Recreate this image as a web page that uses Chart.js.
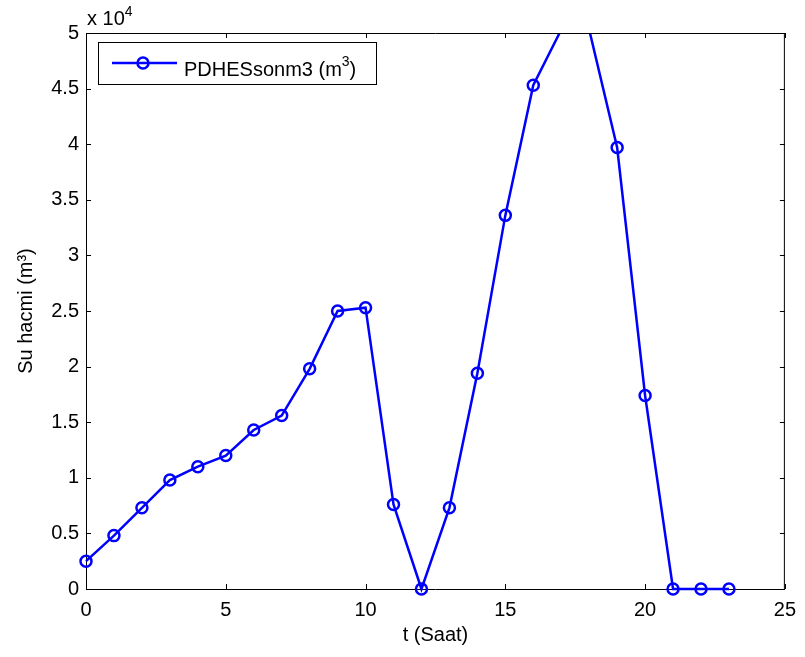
<!DOCTYPE html>
<html>
<head>
<meta charset="utf-8">
<script src="https://cdn.jsdelivr.net/npm/chart.js@4/dist/chart.umd.min.js"></script>
<style>
  html, body { margin: 0; padding: 0; background: #fff; }
  #wrap { width: 805px; height: 657px; }
</style>
</head>
<body>
<div id="wrap"><canvas id="myChart" width="805" height="657"></canvas></div>
<script>
// hours 0..23, water volume in m3
const hours = [0, 1, 2, 3, 4, 5, 6, 7, 8, 9, 10, 11, 12, 13, 14, 15, 16, 17, 18, 19, 20, 21, 22, 23];
const volume = [2500, 4800, 7300, 9800, 11000, 12000, 14300, 15600, 19800, 25000, 25300, 7600,
                0, 7300, 19400, 33600, 45300, 50300, 50300, 39700, 17400, 0, 0, 0];
const seriesName = 'PDHESsonm3 (m';
const xTicks = [0, 5, 10, 15, 20, 25];
const yMax = 50000;

const FONT = 'Liberation Sans, Arial, sans-serif';
const BLUE = '#0000ff';

// inward ticks, box, exponent label and legend (MATLAB look)
const matlabAxes = {
  id: 'matlabAxes',
  afterDatasetsDraw(chart) {
    const ctx = chart.ctx;
    const a = chart.chartArea;
    const xs = chart.scales.x, ys = chart.scales.y;
    ctx.save();
    ctx.strokeStyle = '#000';
    ctx.lineWidth = 1;
    ctx.beginPath();
    // top + right border
    ctx.moveTo(a.left, a.top + 0.5); ctx.lineTo(a.right, a.top + 0.5);
    ctx.moveTo(a.right - 0.5, a.top); ctx.lineTo(a.right - 0.5, a.bottom);
    xs.ticks.forEach(t => {
      const px = Math.round(xs.getPixelForValue(t.value)) + 0.5;
      ctx.moveTo(px, a.bottom); ctx.lineTo(px, a.bottom - 5);
      ctx.moveTo(px, a.top); ctx.lineTo(px, a.top + 5);
    });
    ys.ticks.forEach(t => {
      const py = Math.round(ys.getPixelForValue(t.value)) + 0.5;
      ctx.moveTo(a.left, py); ctx.lineTo(a.left + 5, py);
      ctx.moveTo(a.right, py); ctx.lineTo(a.right - 5, py);
    });
    ctx.stroke();

    // x 10^4
    ctx.fillStyle = '#000';
    ctx.textBaseline = 'alphabetic';
    ctx.textAlign = 'left';
    ctx.font = '20px ' + FONT;
    ctx.fillText('x 10', a.left + 1, 25);
    const w = ctx.measureText('x 10').width;
    ctx.font = '14px ' + FONT;
    ctx.fillText('4', a.left + 1 + w, 16);

    // legend
    const lx = 98, ly = 42, lw = 278, lh = 42;
    ctx.fillStyle = '#fff';
    ctx.fillRect(lx, ly, lw, lh);
    ctx.strokeRect(lx + 0.5, ly + 0.5, lw, lh);
    ctx.strokeStyle = BLUE;
    ctx.lineWidth = 2.5;
    ctx.beginPath();
    ctx.moveTo(112, 63); ctx.lineTo(177, 63);
    ctx.stroke();
    ctx.beginPath();
    ctx.arc(143, 63, 5.5, 0, Math.PI * 2);
    ctx.stroke();
    ctx.fillStyle = '#000';
    ctx.font = '20px ' + FONT;
    ctx.fillText(seriesName, 184, 76);
    let tx = 184 + ctx.measureText(seriesName).width;
    ctx.font = '14px ' + FONT;
    ctx.fillText('3', tx, 66);
    tx += ctx.measureText('3').width;
    ctx.font = '20px ' + FONT;
    ctx.fillText(')', tx, 76);
    ctx.restore();
  }
};

var ctx = document.getElementById('myChart');
var myChart = new Chart(ctx, {
  type: 'line',
  data: {
    datasets: [{
      label: seriesName + '3)',
      data: hours.map((h, i) => ({ x: h, y: volume[i] })),
      borderColor: BLUE,
      backgroundColor: 'rgba(0,0,0,0)',
      borderWidth: 2.5,
      pointBorderColor: BLUE,
      pointBackgroundColor: 'rgba(0,0,0,0)',
      pointBorderWidth: 2.5,
      pointRadius: c => (c.parsed && c.parsed.y > yMax) ? 0 : 5.5,
      pointHoverRadius: 5.5,
      tension: 0,
      clip: { left: 10, right: 10, bottom: 10, top: 0 }
    }]
  },
  options: {
    responsive: false,
    animation: false,
    events: [],
    layout: { padding: { top: 33, right: 16, left: 0, bottom: 0 } },
    plugins: {
      legend: { display: false },
      tooltip: { enabled: false }
    },
    scales: {
      x: {
        type: 'linear',
        min: 0,
        max: 25,
        afterBuildTicks: s => { s.ticks = xTicks.map(v => ({ value: v })); },
        afterFit: s => { s.height = 68; },
        grid: { display: false, drawTicks: false },
        border: { display: true, color: '#000', width: 1 },
        ticks: { color: '#000', font: { family: FONT, size: 20 }, padding: 9, maxRotation: 0 },
        title: {
          display: true, text: 't (Saat)', color: '#000',
          font: { family: FONT, size: 20 }, padding: { top: 0, bottom: 10 }
        }
      },
      y: {
        min: 0,
        max: yMax,
        afterFit: s => { s.width = 86; },
        grid: { display: false, drawTicks: false },
        border: { display: true, color: '#000', width: 1 },
        ticks: {
          stepSize: 5000,
          color: '#000',
          font: { family: FONT, size: 20 },
          padding: 7,
          callback: v => String(v / 10000)
        },
        title: {
          display: true, text: 'Su hacmi (m³)', color: '#000',
          font: { family: FONT, size: 20 }, padding: { top: 14, bottom: 0 }
        }
      }
    }
  },
  plugins: [matlabAxes]
});
</script>
</body>
</html>
